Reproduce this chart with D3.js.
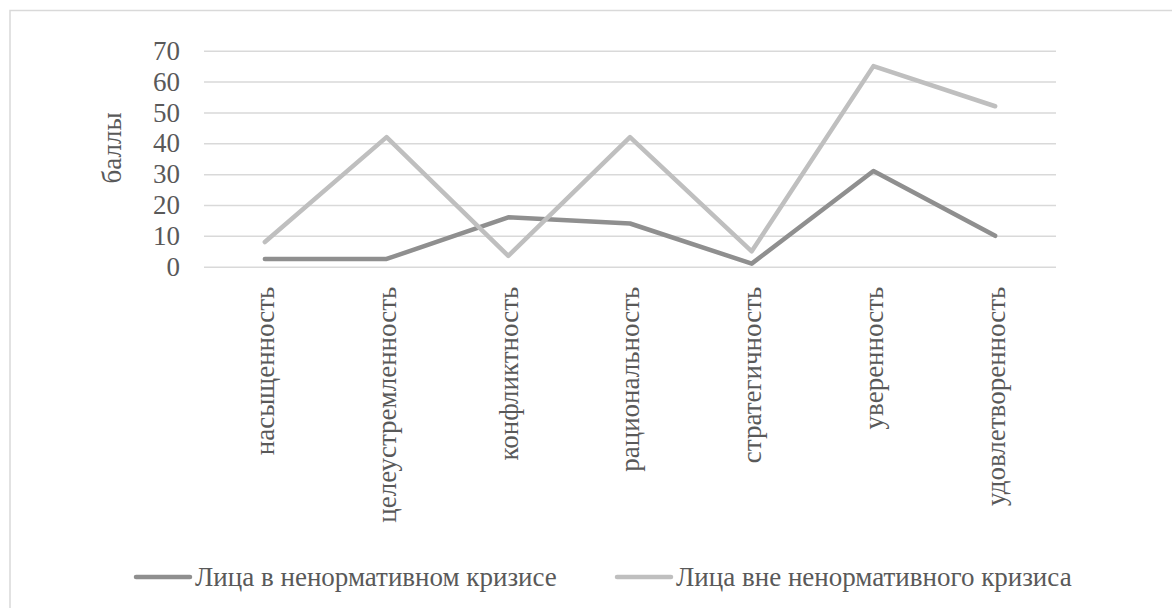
<!DOCTYPE html>
<html>
<head>
<meta charset="utf-8">
<script src="https://cdn.jsdelivr.net/npm/d3@7"></script>
<style>
  html, body { margin: 0; padding: 0; background: #fff; }
  svg { display: block; }
</style>
</head>
<body>
<svg id="chart" width="1172" height="608"></svg>
<script>
// Categories (scale names) and the two groups' scores
const categories = [
  "насыщенность", "целеустремленность", "конфликтность", "рациональность",
  "стратегичность", "уверенность", "удовлетворенность"
];
const inCrisis = [2.5, 2.5, 16, 14, 1, 31, 10];
const outsideCrisis = [8, 42, 3.5, 42, 5, 65, 52];
const yTicks = [0, 10, 20, 30, 40, 50, 60, 70];
const seriesNames = ["Лица в ненормативном кризисе", "Лица вне ненормативного кризиса"];
const seriesColors = ["#8f8f8f", "#bfbfbf"];

const FONT = "Liberation Serif";
const FONT_SIZE = 27;
const TEXT_COLOR = "#595959";

const svg = d3.select("#chart");
const W = 1172, H = 608;
const plot = { left: 204, right: 1056, top: 50.7, bottom: 266.7 };

const styleText = sel => sel
  .attr("font-family", null)
  .style("font-family", FONT)
  .attr("font-size", FONT_SIZE)
  .attr("fill", TEXT_COLOR);

// outer chart-area frame
svg.append("rect")
  .attr("x", 10).attr("y", 10.5)
  .attr("width", W + 20).attr("height", H + 20)
  .attr("fill", "none").attr("stroke", "#d9d9d9").attr("stroke-width", 1.5);

const x = d3.scaleBand().domain(categories).range([plot.left, plot.right]);
const y = d3.scaleLinear().domain([0, 70]).range([plot.bottom, plot.top]);

// horizontal gridlines + y tick labels
const yAxis = d3.axisLeft(y).tickValues(yTicks).tickSize(-(plot.right - plot.left)).tickPadding(24);
const gy = svg.append("g").attr("transform", `translate(${plot.left},0)`).call(yAxis);
gy.attr("font-family", null).attr("font-size", null);
gy.select(".domain").remove();
gy.selectAll(".tick line").attr("stroke", "#d9d9d9").attr("stroke-width", 1.5);
gy.selectAll(".tick text").call(styleText);

// y axis title
svg.append("text")
  .attr("transform", `translate(121,148) rotate(-90)`)
  .attr("text-anchor", "middle")
  .call(styleText)
  .text("баллы");

// category labels, vertical
const xAxis = d3.axisBottom(x).tickSize(0).tickPadding(0);
const gx = svg.append("g").attr("transform", `translate(0,${plot.bottom})`).call(xAxis);
gx.attr("font-family", null).attr("font-size", null);
gx.select(".domain").remove();
gx.selectAll(".tick text")
  .call(styleText)
  .attr("text-anchor", "end")
  .attr("transform", "rotate(-90)")
  .attr("x", -20).attr("y", 0).attr("dy", "0.35em");

// series lines
const cx = c => x(c) + x.bandwidth() / 2;
const line = d3.line().x((d, i) => cx(categories[i])).y(d => y(d));
[inCrisis, outsideCrisis].forEach((vals, k) => {
  svg.append("path")
    .datum(vals)
    .attr("d", line)
    .attr("fill", "none")
    .attr("stroke", seriesColors[k])
    .attr("stroke-width", 4.5)
    .attr("stroke-linecap", "round")
    .attr("stroke-linejoin", "round");
});

// legend
const legendY = 577;
const legendX = [136, 617];
seriesNames.forEach((name, k) => {
  const g = svg.append("g").attr("transform", `translate(${legendX[k]},${legendY})`);
  g.append("line").attr("x1", 0).attr("x2", 54).attr("y1", 0).attr("y2", 0)
    .attr("stroke", seriesColors[k]).attr("stroke-width", 4.5).attr("stroke-linecap", "round");
  g.append("text").attr("x", 59).attr("y", 0).attr("dy", "0.35em")
    .call(styleText).text(name);
});
</script>
</body>
</html>
